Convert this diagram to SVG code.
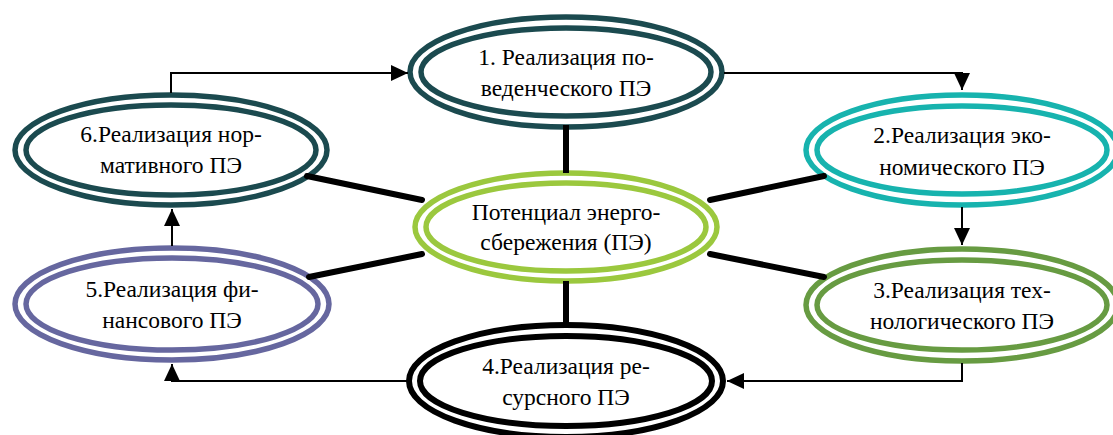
<svg xmlns="http://www.w3.org/2000/svg" width="1113" height="435" viewBox="0 0 1113 435">
<style>
  .ring { fill: none; stroke-width: 5.5; }
  .fill { fill: #ffffff; stroke: none; }
  .lbl { font-family: "Liberation Serif", "DejaVu Serif", serif; font-size: 23.5px; fill: #000; text-anchor: middle; }
  .arrow { fill: none; stroke: #000; stroke-width: 2; }
  .link { fill: none; stroke: #000; stroke-width: 6; }
  .n1 { stroke: #1b4a4f; }
  .n2 { stroke: #17b3ae; }
  .n3 { stroke: #679b42; }
  .n4 { stroke: #000000; stroke-width: 6; }
  .n5 { stroke: #66679f; }
  .n6 { stroke: #1b4a4f; }
  .nc { stroke: #9bc83e; }
</style>
<defs>
  <marker id="ah" markerUnits="userSpaceOnUse" markerWidth="18" markerHeight="18" refX="17" refY="8" orient="auto">
    <path d="M0,0 L17,8 L0,16 z" fill="#000"/>
  </marker>
</defs>
<rect width="1113" height="435" fill="#ffffff"/>

<g id="node1">
  <ellipse class="fill" cx="566" cy="72" rx="156" ry="55"/>
  <ellipse class="ring n1" cx="566" cy="72" rx="156" ry="55"/>
  <ellipse class="ring n1" cx="566" cy="72" rx="145" ry="44"/>
  <text class="lbl" x="566" y="65">1. Реализация по-</text>
  <text class="lbl" x="566" y="96">веденческого ПЭ</text>
</g>
<g id="node2">
  <ellipse class="fill" cx="962" cy="150" rx="156" ry="55"/>
  <ellipse class="ring n2" cx="962" cy="150" rx="156" ry="55"/>
  <ellipse class="ring n2" cx="962" cy="150" rx="145" ry="44"/>
  <text class="lbl" x="962" y="143">2.Реализация эко-</text>
  <text class="lbl" x="962" y="175">номического ПЭ</text>
</g>
<g id="node3">
  <ellipse class="fill" cx="962" cy="305" rx="156" ry="56"/>
  <ellipse class="ring n3" cx="962" cy="305" rx="156" ry="56"/>
  <ellipse class="ring n3" cx="962" cy="305" rx="145" ry="45"/>
  <text class="lbl" x="962" y="298">3.Реализация тех-</text>
  <text class="lbl" x="962" y="329">нологического ПЭ</text>
</g>
<g id="node4">
  <ellipse class="fill" cx="566" cy="381" rx="157" ry="56"/>
  <ellipse class="ring n4" cx="566" cy="381" rx="157" ry="56"/>
  <ellipse class="ring n4" cx="566" cy="381" rx="146" ry="45"/>
  <text class="lbl" x="566" y="374">4.Реализация ре-</text>
  <text class="lbl" x="566" y="405">сурсного ПЭ</text>
</g>
<g id="node5">
  <ellipse class="fill" cx="172" cy="304" rx="157" ry="56"/>
  <ellipse class="ring n5" cx="172" cy="304" rx="157" ry="56"/>
  <ellipse class="ring n5" cx="172" cy="304" rx="146" ry="46"/>
  <text class="lbl" x="172" y="297">5.Реализация фи-</text>
  <text class="lbl" x="172" y="328">нансового ПЭ</text>
</g>
<g id="node6">
  <ellipse class="fill" cx="171" cy="150" rx="156" ry="55"/>
  <ellipse class="ring n6" cx="171" cy="150" rx="156" ry="55"/>
  <ellipse class="ring n6" cx="171" cy="150" rx="145" ry="45"/>
  <text class="lbl" x="171" y="142">6.Реализация нор-</text>
  <text class="lbl" x="171" y="173">мативного ПЭ</text>
</g>
<g id="center">
  <ellipse class="fill" cx="566" cy="227" rx="151" ry="54"/>
  <ellipse class="ring nc" cx="566" cy="227" rx="151" ry="54"/>
  <ellipse class="ring nc" cx="566" cy="227" rx="140" ry="44"/>
  <text class="lbl" x="566" y="220">Потенциал энерго-</text>
  <text class="lbl" x="566" y="250">сбережения (ПЭ)</text>
</g>

<g id="connectors">
  <path class="link" d="M566,125 V173"/>
  <path class="link" d="M566,281 V327"/>
  <path class="link" stroke-linecap="round" d="M307,176 L422,200"/>
  <path class="link" stroke-linecap="round" d="M309,277 L422,254"/>
  <path class="link" stroke-linecap="round" d="M824,176 L710,200"/>
  <path class="link" stroke-linecap="round" d="M824,277 L710,254"/>
  <path class="arrow" marker-end="url(#ah)" d="M171,93 V73 H408"/>
  <path class="arrow" marker-end="url(#ah)" d="M724,73 H962 V90"/>
  <path class="arrow" marker-end="url(#ah)" d="M962,207 V245"/>
  <path class="arrow" marker-end="url(#ah)" d="M962,363 V381 H727"/>
  <path class="arrow" marker-end="url(#ah)" d="M407,381 H172 V364"/>
  <path class="arrow" marker-end="url(#ah)" d="M172,246 V209"/>
</g>
</svg>
